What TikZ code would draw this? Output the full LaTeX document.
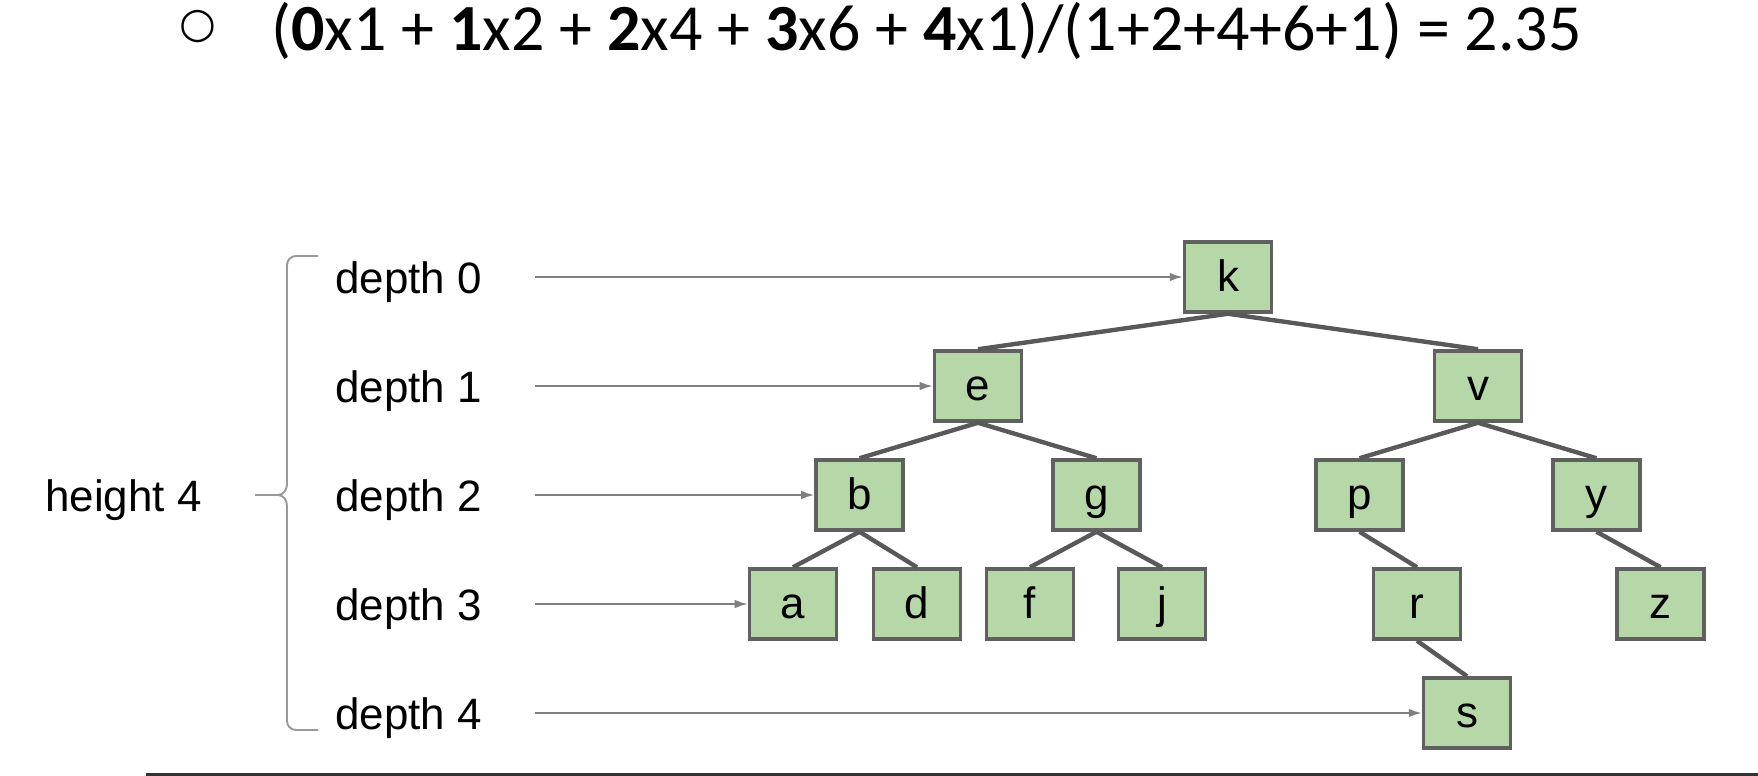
\documentclass[tikz,border=0pt]{standalone}
\usepackage{fontspec}
\setmainfont{Liberation Sans}
\newfontfamily\calfont{Carlito}
\newfontfamily\symfont{DejaVu Sans}
\usetikzlibrary{arrows.meta}
\definecolor{boxgreen}{HTML}{B6D7A8}
\definecolor{boxline}{HTML}{606060}
\definecolor{edgegray}{HTML}{595959}
\definecolor{arrowgray}{HTML}{7F7F7F}
\definecolor{bracegray}{HTML}{999999}
\begin{document}
\begin{tikzpicture}[
        x=0.2mm, y=0.2mm,
        font=\fontsize{25}{30}\selectfont,
        box/.style={draw=boxline, fill=boxgreen, line width=2pt, minimum width=1.74cm, minimum height=1.4cm, text height=18.75pt, text depth=1.75pt, inner sep=0pt},
        lbl/.style={anchor=west, inner sep=0pt, text height=19pt, text depth=0pt},
        depthline/.style={draw=arrowgray, line width=1.1pt, -{Latex[length=0.26cm,width=0.17cm]}, shorten <=1.06cm},
        edge from parent/.style={draw=edgegray, line width=2.5pt},
        parent anchor=south, child anchor=north,
        level distance=2.18cm,
        level 1/.style={sibling distance=10cm},
        level 2/.style={sibling distance=4.74cm},
        level 3/.style={sibling distance=2.48cm},
        level 4/.style={sibling distance=2cm},
    ]
    \useasboundingbox (0,0) rectangle (1758,-776);

    \node[inner sep=0pt, font=\symfont\fontsize{24}{28}\selectfont] (bullet) at (198,-27) {○};
    \node[lbl, text height=, text depth=, font=\calfont\fontsize{37.5}{44}\selectfont] (formula) at (271,-31)
        {(\textbf{0}x1 + \textbf{1}x2 + \textbf{2}x4 + \textbf{3}x6 + \textbf{4}x1)/(1+2+4+6+1) = 2.35};

    \node[box](k) at (1228,-277) {k}
    child{node[box](e){e}
        child{node[box](b){b}
            child[xshift=-0.9mm]{node[box](a){a}}
            child[xshift=-0.9mm]{node[box](d){d}}
        }
        child{node[box](g){g}
            child[xshift=-0.9mm]{node[box](f){f}}
            child[xshift=0.7mm]{node[box](j){j}}
        }
    }
    child{node[box](v){v}
        child{node[box](p){p}
            child[missing]
            child[xshift=-0.9mm]{node[box](r){r}
                child[missing]
                child{node[box](s){s}}
            }
        }
        child{node[box](y){y}
            child[missing]
            child[xshift=0.4mm]{node[box](z){z}}
        }
    }
    ;

    \node[lbl] (d0) at (335,0 |- k) {depth 0};
    \node[lbl] (d1) at (335,0 |- e) {depth 1};
    \node[lbl] (d2) at (335,0 |- b) {depth 2};
    \node[lbl] (d3) at (335,0 |- a) {depth 3};
    \node[lbl] (d4) at (335,0 |- s) {depth 4};
    \node[lbl] (h4) at (45,0 |- b) {height 4};

    \draw[depthline] (d0.east) -- (k.west);
    \draw[depthline] (d1.east) -- (e.west);
    \draw[depthline] (d2.east) -- (b.west);
    \draw[depthline] (d3.east) -- (a.west);
    \draw[depthline] (d4.east) -- (s.west);

    % brace
    \draw[bracegray, line width=1.1pt] (318,-256) -- (296,-256) to[out=180,in=90] (287,-265) -- (287,-484)
        to[out=-90,in=0] (278,-495) -- (255,-495);
    \draw[bracegray, line width=1.1pt] (278,-495) to[out=0,in=90] (287,-506) -- (287,-721)
        to[out=-90,in=180] (296,-730) -- (318,-730);

    \draw[black!80, line width=1.7pt] (146,-774.5) -- (1758,-774.5);
\end{tikzpicture}
\end{document}
